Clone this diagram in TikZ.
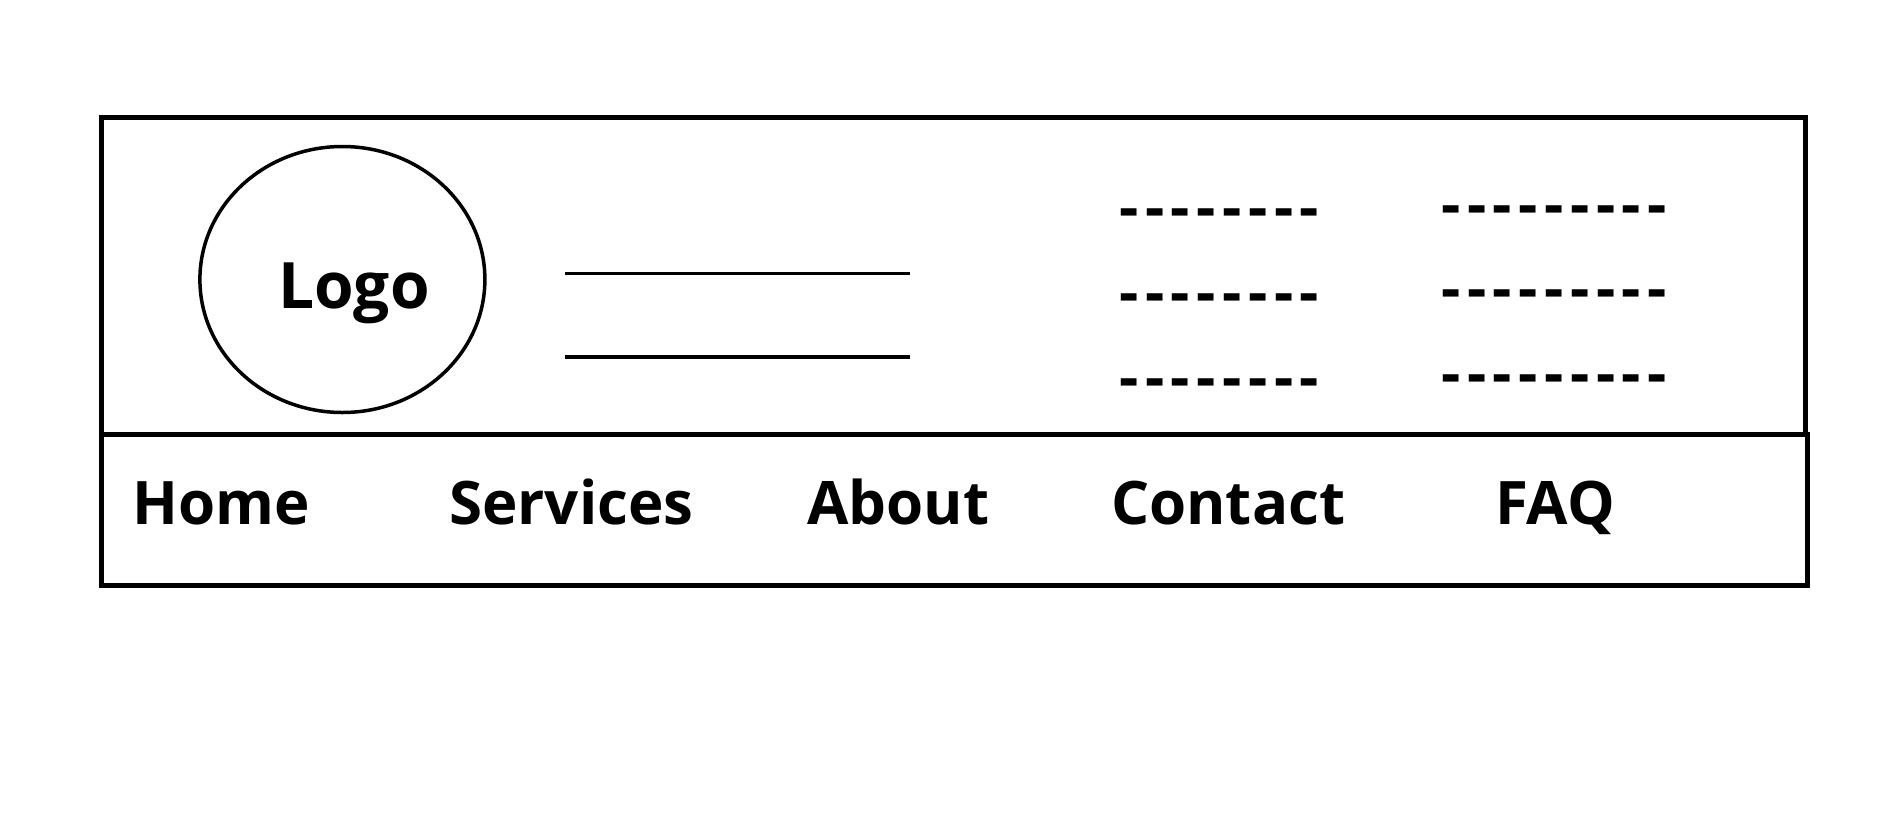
\documentclass[tikz,border=0pt]{standalone}
\usepackage{fontspec}
\setmainfont{Open Sans}
\usetikzlibrary{shapes.geometric}
\newcommand\hyph{-\kern6.5pt}
\tikzset{
  frame/.style={draw,line width=5pt,inner sep=0pt},
  menuitem/.style={anchor=base west,inner sep=0pt,font=\fontsize{60}{60}\selectfont\bfseries},
  dashrow/.style={anchor=base west,inner sep=0pt,font=\fontsize{60}{60}\selectfont\bfseries},
  textline/.style={line width=3.5pt}
}
\begin{document}
\begin{tikzpicture}[x=1pt,y=-1pt]
  \useasboundingbox (0,0) rectangle (1897,825);
  % header and menu bar
  \node[frame,minimum width=1704pt,minimum height=317pt] (header) at (953.3,275.9) {};
  \node[frame,minimum width=1705.4pt,minimum height=151.2pt] (menu) at (954.3,509.9) {};
  % logo
  \node[draw,ellipse,line width=3.5pt,minimum width=285pt,minimum height=266pt] (logo) at (342.4,279.5) {};
  \node[anchor=base west,inner sep=0pt,font=\fontsize{64}{64}\selectfont\bfseries] (logotext) at (278,308.5) {Logo};
  % title lines
  \coordinate (t1a) at (565,273.4);
  \coordinate (t1b) at (910,273.4);
  \coordinate (t2a) at (565,357);
  \coordinate (t2b) at (910,357);
  \draw[textline] (t1a) -- (t1b);
  \draw[textline] (t2a) -- (t2b);
  % placeholder rows
  \node[dashrow] (c1) at (1119,228) {\hyph\hyph\hyph\hyph\hyph\hyph\hyph\hyph};
  \node[dashrow] (c2) at (1119,313) {\hyph\hyph\hyph\hyph\hyph\hyph\hyph\hyph};
  \node[dashrow] (c3) at (1119,398) {\hyph\hyph\hyph\hyph\hyph\hyph\hyph\hyph};
  \node[dashrow] (d1) at (1441,225) {\hyph\hyph\hyph\hyph\hyph\hyph\hyph\hyph\hyph};
  \node[dashrow] (d2) at (1441,309) {\hyph\hyph\hyph\hyph\hyph\hyph\hyph\hyph\hyph};
  \node[dashrow] (d3) at (1441,394) {\hyph\hyph\hyph\hyph\hyph\hyph\hyph\hyph\hyph};
  % menu entries
  \node[menuitem] (home) at (132,524) {Home};
  \node[menuitem] (services) at (449,524) {Services};
  \node[menuitem] (about) at (807,524) {About};
  \node[menuitem] (contact) at (1111,524) {Contact};
  \node[menuitem] (faq) at (1495,524) {FAQ};
\end{tikzpicture}
\end{document}
